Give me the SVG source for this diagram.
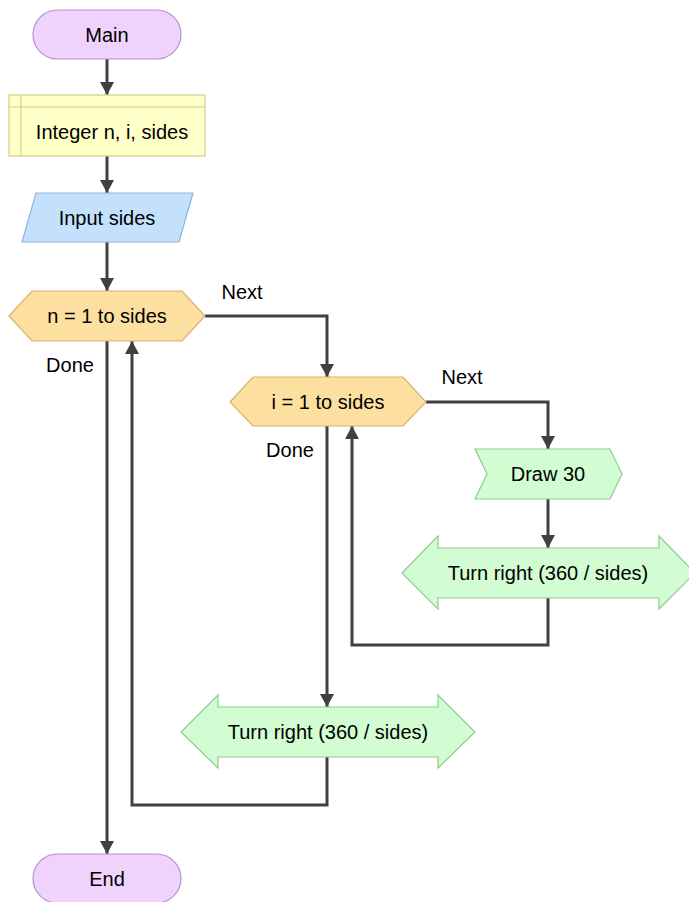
<svg xmlns="http://www.w3.org/2000/svg" width="689" height="902" viewBox="0 0 689 902">
<defs>
<style>
.t{font-family:"Liberation Sans",Arial,sans-serif;font-size:20px;fill:#000;text-anchor:middle;dominant-baseline:central}
.term{fill:#efd3fc;stroke:#b592cc;stroke-width:1.2}
.decl{fill:#ffffc8;stroke:#cfcf8a;stroke-width:1.2}
.io{fill:#c3e0fc;stroke:#8db4dc;stroke-width:1.2}
.loop{fill:#fddf9f;stroke:#d6b170;stroke-width:1.2}
.act{fill:#d2fcd2;stroke:#93c893;stroke-width:1.2}
.c{fill:none;stroke:#404040;stroke-width:3;marker-end:url(#ah)}
</style>
<marker id="ah" markerUnits="userSpaceOnUse" markerWidth="14" markerHeight="14" refX="13" refY="7" orient="auto">
<path d="M0,0 L13,7 L0,14 Z" fill="#404040"/>
</marker>
</defs>
<g id="connectors">
<path class="c" d="M107,59 V95"/>
<path class="c" d="M107,156 V193"/>
<path class="c" d="M107,242 V291"/>
<path class="c" d="M205,316 H327 V377"/>
<path class="c" d="M426,402 H548 V449"/>
<path class="c" d="M548,499 V548"/>
<path class="c" d="M548,598 V645 H352 V426"/>
<path class="c" d="M327,426 V707"/>
<path class="c" d="M327,757 V805 H132 V341"/>
<path class="c" d="M107,341 V854"/>
<text class="t" x="242" y="292">Next</text>
<text class="t" x="70" y="365">Done</text>
<text class="t" x="462" y="377">Next</text>
<text class="t" x="290" y="450">Done</text>
</g>
<g id="main">
<rect class="term" x="33" y="10" width="148" height="49" rx="24.5"/>
<text class="t" x="107" y="35">Main</text>
</g>
<g id="decl">
<rect class="decl" x="9" y="95" width="196" height="61"/>
<path d="M21,95 V156 M9,107 H205" stroke="#cfcf8a" stroke-width="1.2" fill="none"/>
<text class="t" x="112" y="132">Integer n, i, sides</text>
</g>
<g id="input">
<polygon class="io" points="36,193 193,193 179,242 22,242"/>
<text class="t" x="107" y="218">Input sides</text>
</g>
<g id="loopN">
<polygon class="loop" points="9,316 32,291 182,291 205,316 182,341 32,341"/>
<text class="t" x="107" y="316">n = 1 to sides</text>
</g>
<g id="loopI">
<polygon class="loop" points="230,402 253,377 403,377 426,402 403,426 253,426"/>
<text class="t" x="328" y="402">i = 1 to sides</text>
</g>
<g id="draw">
<polygon class="act" points="475,449 610,449 622,474 610,499 475,499 487,474"/>
<text class="t" x="548" y="474">Draw 30</text>
</g>
<g id="turn1">
<polygon class="act" points="402,573 438,536 438,548 659,548 659,536 695,573 659,609 659,598 438,598 438,609"/>
<text class="t" x="548" y="573">Turn right (360 / sides)</text>
</g>
<g id="turn2">
<polygon class="act" points="181,732 218,695 218,707 438,707 438,695 475,732 438,768 438,757 218,757 218,768"/>
<text class="t" x="328" y="732">Turn right (360 / sides)</text>
</g>
<g id="end">
<rect class="term" x="33" y="854" width="148" height="49" rx="24.5"/>
<text class="t" x="107" y="879">End</text>
</g>
</svg>
